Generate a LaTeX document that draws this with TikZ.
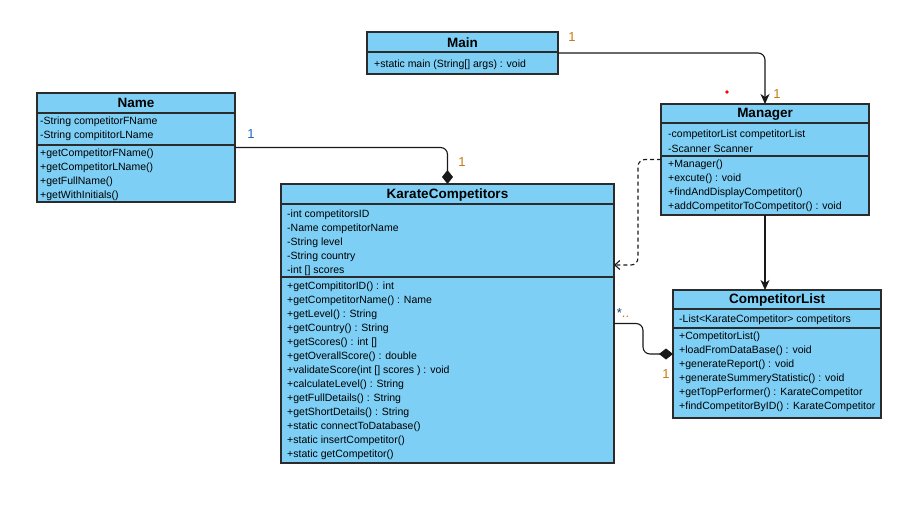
\documentclass[tikz,border=0pt]{standalone}
\usepackage{fontspec}
\setmainfont{Liberation Sans}
\usetikzlibrary{arrows.meta}

\definecolor{classfill}{HTML}{7DCFF5}
\definecolor{classline}{HTML}{2B2B2B}
\definecolor{multorange}{HTML}{C47A10}
\definecolor{multblue}{HTML}{1A66C0}

\tikzset{
  classbox/.style={draw=classline, line width=1.2pt, fill=classfill, anchor=north west,
    inner sep=0pt, outer sep=0pt},
  divider/.style={draw=classline, line width=1.2pt},
  classtitle/.style={font=\fontsize{13.5}{14}\selectfont\bfseries, inner sep=0pt},
  member/.style={font=\fontsize{10.5}{12}\selectfont, anchor=west, inner sep=0pt},
  link/.style={draw=black!90, line width=1.1pt, rounded corners=7pt},
  assoc/.style={link, -{Stealth[length=10pt,width=9pt,inset=3pt]}},
  compo/.style={link, -{Diamond[length=14pt,width=11pt]}},
  depend/.style={link, dash pattern=on 4pt off 3pt, -{Straight Barb[length=5pt,width=9pt]}},
  mult/.style={font=\fontsize{13}{14}\selectfont, inner sep=0pt, text=multorange},
}

\begin{document}
\begin{tikzpicture}[x=1pt, y=-1pt]
  \path[fill=white, use as bounding box] (0,0) rectangle (915,513);

  % ---------- Main ----------
  \node[classbox, minimum width=191pt, minimum height=42pt] (main) at (367,32) {};
  \draw[divider] (367,52) -- (558,52);
  \node[classtitle] (main-title) at (462.5,43) {Main};
  \node[member] (main-m1) at (374,64.5) {+static main (String[] args) : void};

  % ---------- Name ----------
  \node[classbox, minimum width=198pt, minimum height=109pt] (name) at (37,93) {};
  \draw[divider] (37,113) -- (235,113);
  \draw[divider] (37,145) -- (235,145);
  \node[classtitle] (name-title) at (136,103) {Name};
  \foreach \t [count=\i] in {-String competitorFName, -String compititorLName}
    \node[member] (name-a\i) at (40,{107.5+14*\i}) {\t};
  \foreach \t [count=\i] in {+getCompetitorFName(), +getCompetitorLName(),
      +getFullName(), +getWithInitials()}
    \node[member] (name-m\i) at (40,{139.5+14*\i}) {\t};

  % ---------- KarateCompetitors ----------
  \node[classbox, minimum width=333pt, minimum height=279pt] (kc) at (281,184) {};
  \draw[divider] (281,204) -- (614,204);
  \draw[divider] (281,277) -- (614,277);
  \node[classtitle] (kc-title) at (447.5,195) {KarateCompetitors};
  \foreach \t [count=\i] in {-int competitorsID, -Name competitorName,
      -String level, -String country, -int [] scores}
    \node[member] (kc-a\i) at (287,{200.5+14*\i}) {\t};
  \foreach \t [count=\i] in {+getCompititorID() : int, +getCompetitorName() : Name,
      +getLevel() : String, +getCountry() : String, +getScores() : int [],
      +getOverallScore() : double, +validateScore(int [] scores ) : void,
      +calculateLevel() : String, +getFullDetails() : String,
      +getShortDetails() : String, +static connectToDatabase(),
      +static insertCompetitor(), +static getCompetitor()}
    \node[member] (kc-m\i) at (287,{272.5+14*\i}) {\t};

  % ---------- Manager ----------
  \node[classbox, minimum width=208pt, minimum height=111pt] (manager) at (661,104) {};
  \draw[divider] (661,123) -- (869,123);
  \draw[divider] (661,156) -- (869,156);
  \node[classtitle] (manager-title) at (765,114) {Manager};
  \foreach \t [count=\i] in {-competitorList competitorList, -Scanner Scanner}
    \node[member] (manager-a\i) at (668,{120.5+14*\i}) {\t};
  \foreach \t [count=\i] in {+Manager(), +excute() : void,
      +findAndDisplayCompetitor(), +addCompetitorToCompetitor() : void}
    \node[member] (manager-m\i) at (668,{150.5+14*\i}) {\t};

  % ---------- CompetitorList ----------
  \node[classbox, minimum width=208pt, minimum height=128pt] (cl) at (673,290) {};
  \draw[divider] (673,309) -- (881,309);
  \draw[divider] (673,328) -- (881,328);
  \node[classtitle] (cl-title) at (777,300) {CompetitorList};
  \node[member] (cl-a1) at (679,320) {-List<KarateCompetitor> competitors};
  \foreach \t [count=\i] in {+CompetitorList(), +loadFromDataBase() : void,
      +generateReport() : void, +generateSummeryStatistic() : void,
      +getTopPerformer() : KarateCompetitor, +findCompetitorByID() : KarateCompetitor}
    \node[member] (cl-m\i) at (679,{322.5+14*\i}) {\t};

  % ---------- Connectors ----------
  \draw[assoc] (main.east) -| (manager.north);
  \draw[compo] (name.east) -| (kc.north);
  \draw[assoc] (manager.south) -- (manager.south |- cl.north);
  \draw[depend] (manager.west) -- ++(-23,0) |- ([yshift=58.5pt]kc.east);
  \draw[compo] (kc.east) -- ++(29,0) |- (cl.west);

  % ---------- Multiplicities ----------
  \node[mult] (m-main) at (572,37) {1};
  \node[mult] (m-manager) at (777,94) {1};
  \node[mult, text=multblue] (m-name) at (251,134) {1};
  \node[mult] (m-kc) at (462,162) {1};
  \node[mult] (m-many) at (623,313) {{\color{multblue!60!black}*}..};
  \node[mult] (m-cl) at (666,374) {1};

  \node[circle, fill=red, inner sep=0pt, minimum size=3.6pt] (dot) at (727,92) {};
\end{tikzpicture}
\end{document}
